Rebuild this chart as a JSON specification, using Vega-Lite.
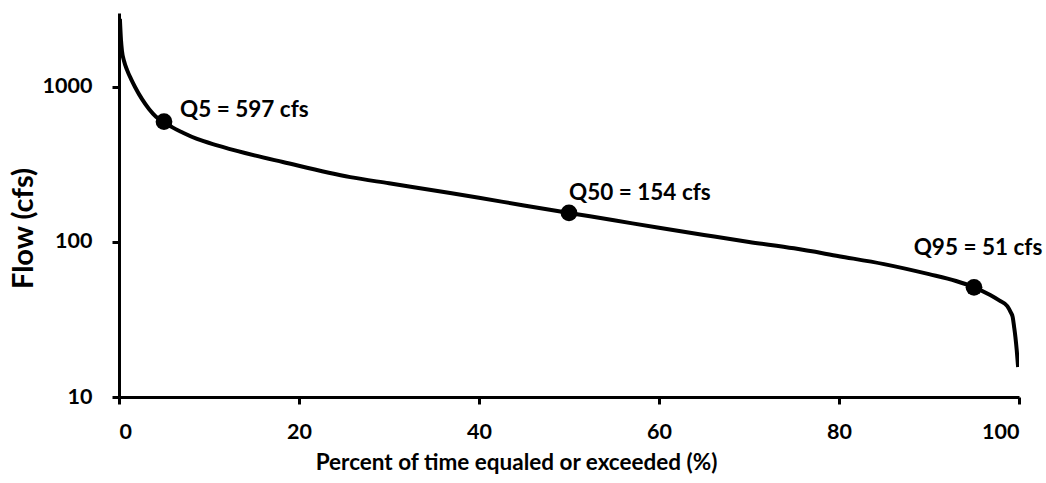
{
  "$schema": "https://vega.github.io/schema/vega-lite/v6.json",
  "autosize": "none",
  "width": 900,
  "height": 384,
  "padding": {"left": 119, "top": 13, "right": 27, "bottom": 86},
  "background": "white",
  "config": {
    "view": {"stroke": null},
    "font": "Lato",
    "axis": {
      "grid": false,
      "domainColor": "black",
      "domainWidth": 3,
      "tickColor": "black",
      "tickWidth": 3,
      "tickSize": 7,
      "labelFont": "Lato",
      "labelFontWeight": "bold",
      "labelFontSize": 21.5,
      "labelColor": "black",
      "titleFont": "Lato",
      "titleFontWeight": "bold",
      "titleColor": "black"
    }
  },
  "datasets": {
    "curve": [
      {"pct": 0.1, "flow": 2750},
      {"pct": 0.22, "flow": 2009},
      {"pct": 0.33, "flow": 1706},
      {"pct": 0.56, "flow": 1472},
      {"pct": 0.89, "flow": 1288},
      {"pct": 1.33, "flow": 1127},
      {"pct": 1.78, "flow": 1000},
      {"pct": 2.56, "flow": 834},
      {"pct": 3.33, "flow": 721},
      {"pct": 4.11, "flow": 643},
      {"pct": 5.0, "flow": 597},
      {"pct": 5.89, "flow": 551},
      {"pct": 7.11, "flow": 507},
      {"pct": 8.67, "flow": 462},
      {"pct": 10.9, "flow": 420},
      {"pct": 14.0, "flow": 375},
      {"pct": 18.2, "flow": 328},
      {"pct": 25.7, "flow": 262},
      {"pct": 30.0, "flow": 239},
      {"pct": 36.8, "flow": 207},
      {"pct": 40.0, "flow": 193},
      {"pct": 45.0, "flow": 172},
      {"pct": 50.0, "flow": 154},
      {"pct": 55.0, "flow": 138},
      {"pct": 60.0, "flow": 123.5},
      {"pct": 65.0, "flow": 111},
      {"pct": 70.0, "flow": 100},
      {"pct": 75.0, "flow": 91},
      {"pct": 80.0, "flow": 81},
      {"pct": 85.0, "flow": 72},
      {"pct": 90.0, "flow": 62},
      {"pct": 93.0, "flow": 56},
      {"pct": 95.0, "flow": 51},
      {"pct": 96.8, "flow": 45.5},
      {"pct": 97.8, "flow": 42},
      {"pct": 98.7, "flow": 38.6},
      {"pct": 99.1, "flow": 35},
      {"pct": 99.3, "flow": 32.8},
      {"pct": 99.45, "flow": 28.5},
      {"pct": 99.6, "flow": 24.4},
      {"pct": 99.75, "flow": 20},
      {"pct": 99.9, "flow": 15.6}
    ],
    "quantiles": [
      {"pct": 5, "flow": 597, "label": "Q5 = 597 cfs"},
      {"pct": 50, "flow": 154, "label": "Q50 = 154 cfs"},
      {"pct": 95, "flow": 51, "label": "Q95 = 51 cfs"}
    ]
  },
  "layer": [
    {
      "data": {"name": "curve"},
      "mark": {"type": "line", "color": "black", "strokeWidth": 4, "interpolate": "monotone", "clip": true},
      "encoding": {
        "x": {
          "field": "pct", "type": "quantitative",
          "scale": {"domain": [0, 100], "nice": false},
          "axis": {"values": [0, 20, 40, 60, 80, 100], "labelPadding": 17, "titlePadding": 9, "titleFontSize": 22.5, "titleX": 397, "titleAlign": "center"},
          "title": "Percent of time equaled or exceeded (%)"
        },
        "y": {
          "field": "flow", "type": "quantitative",
          "scale": {"type": "log", "domain": [10, 3000], "nice": false},
          "axis": {"values": [10, 100, 1000], "labelPadding": 20, "format": "d", "titleFontSize": 29, "titleX": -96, "titleY": 215, "titleBaseline": "middle", "titleAlign": "center", "titleAngle": -90},
          "title": "Flow (cfs)"
        }
      }
    },
    {
      "data": {"name": "quantiles"},
      "mark": {"type": "point", "shape": "circle", "filled": true, "color": "black", "size": 280, "opacity": 1},
      "encoding": {
        "x": {"field": "pct", "type": "quantitative"},
        "y": {"field": "flow", "type": "quantitative"}
      }
    },
    {
      "data": {"name": "quantiles"},
      "transform": [{"filter": "datum.pct == 5"}],
      "mark": {"type": "text", "align": "left", "baseline": "middle", "dx": 16, "dy": -12, "fontSize": 22.5, "fontWeight": "bold", "font": "Lato", "color": "black"},
      "encoding": {
        "x": {"field": "pct", "type": "quantitative"},
        "y": {"field": "flow", "type": "quantitative"},
        "text": {"field": "label"}
      }
    },
    {
      "data": {"name": "quantiles"},
      "transform": [{"filter": "datum.pct == 50"}],
      "mark": {"type": "text", "align": "left", "baseline": "middle", "dx": 0, "dy": -20, "fontSize": 22.5, "fontWeight": "bold", "font": "Lato", "color": "black"},
      "encoding": {
        "x": {"field": "pct", "type": "quantitative"},
        "y": {"field": "flow", "type": "quantitative"},
        "text": {"field": "label"}
      }
    },
    {
      "data": {"name": "quantiles"},
      "transform": [{"filter": "datum.pct == 95"}],
      "mark": {"type": "text", "align": "center", "baseline": "middle", "dx": 4, "dy": -39, "fontSize": 22.5, "fontWeight": "bold", "font": "Lato", "color": "black"},
      "encoding": {
        "x": {"field": "pct", "type": "quantitative"},
        "y": {"field": "flow", "type": "quantitative"},
        "text": {"field": "label"}
      }
    }
  ]
}
